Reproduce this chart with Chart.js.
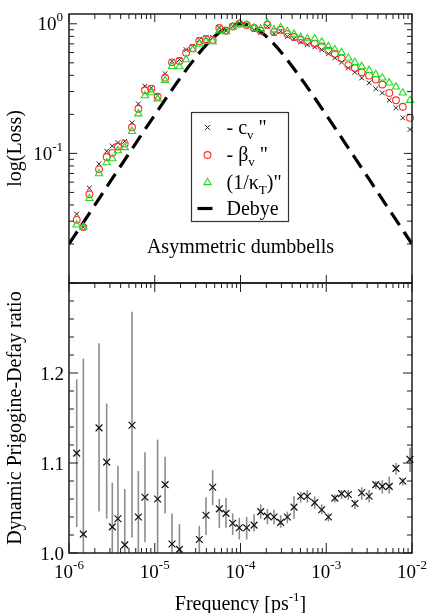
<!DOCTYPE html>
<html>
<head>
<meta charset="utf-8">
<script src="https://cdn.jsdelivr.net/npm/chart.js@4.4.1/dist/chart.umd.min.js"></script>
<style>
  html, body { margin: 0; padding: 0; background: #fff; }
  #wrap { position: relative; width: 428px; height: 613px; overflow: hidden; background: #fff; }
  canvas { position: absolute; left: 0; }
  #lossCanvas { top: 0; }
  #ratioCanvas { top: 270px; }
</style>
</head>
<body>
<div id="wrap">
  <canvas id="lossCanvas" width="428" height="300"></canvas>
  <canvas id="ratioCanvas" width="428" height="343"></canvas>
</div>
<script>
// Frequencies of the measured points [ps^-1]
const frequency = [
  1.23e-6, 1.47e-6, 1.73e-6, 2.24e-6, 2.75e-6, 3.20e-6, 3.72e-6, 4.47e-6, 5.43e-6, 6.44e-6,
  7.69e-6, 9.12e-6, 1.08e-5, 1.32e-5, 1.59e-5, 1.94e-5, 2.32e-5, 2.77e-5, 3.31e-5, 3.96e-5,
  4.74e-5, 5.66e-5, 6.78e-5, 8.11e-5, 9.68e-5, 1.18e-4, 1.44e-4, 1.72e-4, 2.06e-4, 2.46e-4,
  2.94e-4, 3.52e-4, 4.21e-4, 5.04e-4, 6.01e-4, 7.33e-4, 8.85e-4, 1.06e-3, 1.26e-3, 1.51e-3,
  1.81e-3, 2.16e-3, 2.59e-3, 3.16e-3, 3.78e-3, 4.51e-3, 5.43e-3, 6.50e-3, 7.80e-3, 9.48e-3
];

// Normalised loss of -c_v''
const cvLoss = [
  0.034, 0.027, 0.054, 0.083, 0.104, 0.114, 0.121, 0.124, 0.172, 0.241,
  0.330, 0.320, 0.279, 0.412, 0.513, 0.529, 0.631, 0.669, 0.753, 0.785,
  0.785, 0.927, 0.884, 0.953, 1.000, 0.980, 0.899, 0.863, 0.953, 0.838,
  0.873, 0.798, 0.767, 0.723, 0.689, 0.662, 0.631, 0.588, 0.545, 0.505,
  0.456, 0.422, 0.382, 0.350, 0.315, 0.293, 0.257, 0.225, 0.188, 0.153
];

// Normalised loss of -beta_v''
const betaLoss = [
  0.0307, 0.027, 0.0484, 0.0753, 0.0937, 0.101, 0.113, 0.119, 0.159, 0.221,
  0.307, 0.316, 0.274, 0.384, 0.504, 0.516, 0.598, 0.650, 0.736, 0.762,
  0.750, 0.927, 0.884, 0.953, 1.000, 0.980, 0.927, 0.884, 0.982, 0.863,
  0.899, 0.833, 0.790, 0.753, 0.723, 0.702, 0.669, 0.620, 0.585, 0.540,
  0.480, 0.456, 0.422, 0.398, 0.371, 0.340, 0.293, 0.257, 0.229, 0.188
];

// Normalised loss of (1/kappa_T)''
const kappaLoss = [
  0.0281, 0.027, 0.0449, 0.0698, 0.0848, 0.091, 0.105, 0.111, 0.148, 0.202,
  0.279, 0.294, 0.263, 0.366, 0.469, 0.467, 0.529, 0.631, 0.698, 0.731,
  0.730, 0.884, 0.870, 0.945, 1.000, 0.980, 0.930, 0.915, 1.012, 0.899,
  0.937, 0.873, 0.833, 0.785, 0.767, 0.767, 0.723, 0.669, 0.631, 0.600,
  0.545, 0.504, 0.469, 0.437, 0.406, 0.382, 0.350, 0.326, 0.293, 0.257
];

// Debye reference peak
const debyeFrequency = [
  1e-6, 1.78e-6, 3.16e-6, 5.62e-6, 1e-5, 1.78e-5, 3.16e-5, 4.22e-5, 5.62e-5, 7.5e-5,
  1e-4, 1.33e-4, 1.78e-4, 2.37e-4, 3.16e-4, 5.62e-4, 1e-3, 1.78e-3, 3.16e-3, 5.62e-3, 1e-2
];
const debyeLoss = [
  0.0200, 0.0355, 0.0632, 0.112, 0.198, 0.345, 0.575, 0.716, 0.854, 0.960,
  1.000, 0.960, 0.854, 0.716, 0.575, 0.345, 0.198, 0.112, 0.0632, 0.0355, 0.0200
];

// Dynamic Prigogine-Defay ratio with its error range (null: outside the shown range)
const pdRatio = [
  1.111, 1.021, null, 1.139, 1.101, 1.029, 1.038, 1.009, 1.142, 1.040,
  1.062, null, 1.060, 1.076, 1.010, 1.004, null, null, 1.015, 1.042,
  1.073, 1.049, 1.044, 1.033, 1.028, 1.028, 1.031, 1.046, 1.041, 1.040,
  1.034, 1.040, 1.051, 1.063, 1.063, 1.056, 1.048, 1.040, 1.061, 1.066,
  1.065, 1.055, 1.067, 1.063, 1.076, 1.074, 1.074, 1.094, 1.080, 1.104
];
const pdLow = [
  1.029, 0.970, null, 1.046, 1.038, 0.980, 0.980, 0.950, 1.017, 0.990,
  1.012, null, 0.990, 1.044, 0.976, 0.976, null, null, 1.000, 1.020,
  1.053, 1.028, 1.028, 1.020, 1.015, 1.015, 1.024, 1.038, 1.032, 1.032,
  1.028, 1.033, 1.038, 1.056, 1.056, 1.049, 1.043, 1.035, 1.056, 1.060,
  1.059, 1.049, 1.059, 1.056, 1.071, 1.066, 1.066, 1.087, 1.075, 1.090
];
const pdHigh = [
  1.193, 1.216, null, 1.233, 1.166, 1.078, 1.097, 1.071, 1.268, 1.091,
  1.112, null, 1.126, 1.107, 1.044, 1.032, null, null, 1.030, 1.062,
  1.092, 1.060, 1.061, 1.044, 1.039, 1.040, 1.043, 1.054, 1.049, 1.048,
  1.042, 1.046, 1.063, 1.068, 1.070, 1.063, 1.054, 1.044, 1.065, 1.070,
  1.070, 1.059, 1.073, 1.070, 1.080, 1.081, 1.085, 1.100, 1.083, 1.117
];

// Axis ranges and tick labels
const freqRange = [1e-6, 1e-2];
const lossRange = [0.01, 1.19];
const ratioRange = [1.0, 1.3];
const freqTicks = [1e-6, 1e-5, 1e-4, 1e-3, 1e-2];
const freqTickExponents = ['-6', '-5', '-4', '-3', '-2'];
const lossTicks = [0.1, 1];
const lossTickExponents = ['-1', '0'];
const ratioTicks = [1.0, 1.1, 1.2];
const ratioTickLabels = ['1.0', '1.1', '1.2'];

const SERIF = '"Liberation Serif", "Times New Roman", Times, serif';

function toPoints(xs, ys) {
  return xs.map((x, i) => ({ x: x, y: ys[i] })).filter(p => p.y !== null);
}

// decade + 2..9 minor positions inside [min, max]
function logTickValues(min, max) {
  const out = [];
  for (let e = Math.floor(Math.log10(min)); e <= Math.ceil(Math.log10(max)); e++) {
    for (let k = 1; k < 10; k++) {
      const v = k * Math.pow(10, e);
      if (v >= min * 0.999 && v <= max * 1.001) out.push({ v: v, major: k === 1 });
    }
  }
  return out;
}

function seg(ctx, x1, y1, x2, y2) {
  ctx.beginPath();
  ctx.moveTo(x1, y1);
  ctx.lineTo(x2, y2);
  ctx.stroke();
}

// text made of pieces with their own size and vertical shift (sub/superscripts)
function richText(ctx, parts, x, y, align) {
  let w = 0;
  parts.forEach(p => { ctx.font = p.size + 'px ' + SERIF; p.w = ctx.measureText(p.t).width; w += p.w; });
  let cx = align === 'center' ? x - w / 2 : (align === 'right' ? x - w : x);
  ctx.textAlign = 'left';
  ctx.textBaseline = 'alphabetic';
  parts.forEach(p => {
    ctx.font = p.size + 'px ' + SERIF;
    ctx.fillText(p.t, cx, y + (p.dy || 0));
    cx += p.w;
  });
}

function powerParts(exp) {
  return [{ t: '10', size: 19 }, { t: exp, size: 13, dy: -9 }];
}

function marker(ctx, style, x, y, r) {
  ctx.beginPath();
  if (style === 'crossRot') {
    const d = r * Math.SQRT1_2;
    ctx.moveTo(x - d, y - d); ctx.lineTo(x + d, y + d);
    ctx.moveTo(x - d, y + d); ctx.lineTo(x + d, y - d);
  } else if (style === 'circle') {
    ctx.arc(x, y, r, 0, Math.PI * 2);
  } else if (style === 'triangle') {
    for (let i = 0; i < 3; i++) {
      const a = i * 2 * Math.PI / 3;
      const px = x + Math.sin(a) * r, py = y - Math.cos(a) * r;
      if (i === 0) ctx.moveTo(px, py); else ctx.lineTo(px, py);
    }
    ctx.closePath();
  }
  ctx.stroke();
}

function verticalTitle(ctx, text, x, y) {
  ctx.save();
  ctx.translate(x, y);
  ctx.rotate(-Math.PI / 2);
  ctx.font = '20px ' + SERIF;
  ctx.fillStyle = '#000';
  ctx.textAlign = 'center';
  ctx.textBaseline = 'middle';
  ctx.fillText(text, 0, 0);
  ctx.restore();
}

const lossSeries = [
  { label: '- c_v\'\'', data: cvLoss, style: 'crossRot', r: 3.4, color: '#222222', width: 1 },
  { label: '- beta_v\'\'', data: betaLoss, style: 'circle', r: 3.4, color: '#ff2a2a', width: 1.1 },
  { label: '(1/kappa_T)\'\'', data: kappaLoss, style: 'triangle', r: 4.2, color: '#1fdc1f', width: 1.1 }
];

const lossDecor = {
  id: 'lossDecor',
  afterDraw(chart) {
    const ctx = chart.ctx, a = chart.chartArea, X = chart.scales.x, Y = chart.scales.y;
    ctx.save();
    ctx.strokeStyle = '#1c1c1c';
    ctx.lineWidth = 1;
    logTickValues(freqRange[0], freqRange[1]).forEach(t => {
      const px = X.getPixelForValue(t.v);
      seg(ctx, px, a.top, px, a.top + (t.major ? 8 : 5));
      if (t.major) seg(ctx, px, a.bottom, px, a.bottom - 8);
    });
    logTickValues(lossRange[0], lossRange[1]).forEach(t => {
      const py = Y.getPixelForValue(t.v);
      const len = t.major ? 8 : 5;
      seg(ctx, a.left, py, a.left + len, py);
      seg(ctx, a.right, py, a.right - len, py);
    });
    ctx.lineWidth = 1.5;
    ctx.strokeRect(a.left, a.top, a.right - a.left, a.bottom - a.top);

    ctx.fillStyle = '#000';
    lossTicks.forEach((v, i) => {
      richText(ctx, powerParts(lossTickExponents[i]), a.left - 6, Y.getPixelForValue(v) + 6.5, 'right');
    });
    verticalTitle(ctx, 'log(Loss)', 16, (a.top + a.bottom) / 2);

    ctx.font = '20px ' + SERIF;
    ctx.textAlign = 'center';
    ctx.fillText('Asymmetric dumbbells', (a.left + a.right) / 2, a.bottom - 30);

    // legend
    const bx = a.left + 122.5, by = a.top + 98.5, bw = 97, bh = 109;
    ctx.fillStyle = '#fff';
    ctx.fillRect(bx, by, bw, bh);
    ctx.strokeStyle = '#333';
    ctx.lineWidth = 1.2;
    ctx.strokeRect(bx, by, bw, bh);
    const mx = bx + 16, tx = bx + 35;
    const rows = [by + 15, by + 42.5, by + 70, by + 96];
    lossSeries.forEach((s, i) => {
      ctx.strokeStyle = s.color;
      ctx.lineWidth = s.width;
      marker(ctx, s.style, mx, rows[i], s.r);
    });
    ctx.strokeStyle = '#000';
    ctx.lineWidth = 3.2;
    seg(ctx, bx + 6, rows[3], bx + 21, rows[3]);
    ctx.fillStyle = '#000';
    richText(ctx, [{ t: '- c', size: 20 }, { t: 'v', size: 13, dy: 5 }, { t: ' "', size: 20 }], tx, rows[0] + 6, 'left');
    richText(ctx, [{ t: '- \u03b2', size: 20 }, { t: 'v', size: 13, dy: 5 }, { t: ' "', size: 20 }], tx, rows[1] + 6, 'left');
    richText(ctx, [{ t: '(1/\u03ba', size: 20 }, { t: 'T', size: 13, dy: 5 }, { t: ')"', size: 20 }], tx, rows[2] + 6, 'left');
    richText(ctx, [{ t: 'Debye', size: 20 }], tx, rows[3] + 6, 'left');
    ctx.restore();
  }
};

const ratioDecor = {
  id: 'ratioDecor',
  beforeDatasetsDraw(chart) {
    const ctx = chart.ctx, a = chart.chartArea, X = chart.scales.x, Y = chart.scales.y;
    ctx.save();
    ctx.beginPath();
    ctx.rect(a.left, a.top, a.right - a.left, a.bottom - a.top);
    ctx.clip();
    ctx.strokeStyle = '#8c8c8c';
    ctx.lineWidth = 1.6;
    frequency.forEach((f, i) => {
      if (pdRatio[i] === null) return;
      const px = X.getPixelForValue(f);
      seg(ctx, px, Y.getPixelForValue(pdLow[i]), px, Y.getPixelForValue(pdHigh[i]));
    });
    ctx.restore();
  },
  afterDraw(chart) {
    const ctx = chart.ctx, a = chart.chartArea, X = chart.scales.x, Y = chart.scales.y;
    ctx.save();
    ctx.strokeStyle = '#1c1c1c';
    ctx.lineWidth = 1;
    logTickValues(freqRange[0], freqRange[1]).forEach(t => {
      const px = X.getPixelForValue(t.v);
      seg(ctx, px, a.bottom, px, a.bottom - (t.major ? 10 : 5));
      seg(ctx, px, a.top, px, a.top + (t.major ? 9 : 5));
    });
    for (let k = 0; k <= 15; k++) {
      const v = ratioRange[0] + k * 0.02;
      const py = Y.getPixelForValue(v);
      const len = k % 5 === 0 ? 9 : 5;
      seg(ctx, a.left, py, a.left + len, py);
      seg(ctx, a.right, py, a.right - len, py);
    }
    ctx.lineWidth = 1.5;
    ctx.strokeRect(a.left, a.top, a.right - a.left, a.bottom - a.top);

    ctx.fillStyle = '#000';
    ratioTicks.forEach((v, i) => {
      richText(ctx, [{ t: ratioTickLabels[i], size: 19 }], a.left - 5, Y.getPixelForValue(v) + 6.5, 'right');
    });
    freqTicks.forEach((v, i) => {
      richText(ctx, powerParts(freqTickExponents[i]), X.getPixelForValue(v), a.bottom + 25, 'center');
    });
    richText(ctx, [{ t: 'Frequency [ps', size: 20 }, { t: '-1', size: 13, dy: -9 }, { t: ']', size: 20 }],
      (a.left + a.right) / 2, a.bottom + 57, 'center');
    verticalTitle(ctx, 'Dynamic Prigogine-Defay ratio', 16, (a.top + a.bottom) / 2);
    ctx.restore();
  }
};

const baseOptions = (padding, yScale) => ({
  responsive: false,
  maintainAspectRatio: false,
  animation: false,
  devicePixelRatio: 1,
  layout: { padding: padding },
  plugins: { legend: { display: false }, tooltip: { enabled: false } },
  scales: {
    x: { type: 'logarithmic', min: freqRange[0], max: freqRange[1], bounds: 'data', display: false },
    y: yScale
  }
});

new Chart(document.getElementById('lossCanvas'), {
  type: 'scatter',
  data: {
    datasets: [
      {
        type: 'line',
        label: 'Debye',
        data: toPoints(debyeFrequency, debyeLoss),
        borderColor: '#000',
        borderWidth: 3.2,
        borderDash: [15, 8],
        pointRadius: 0,
        fill: false,
        cubicInterpolationMode: 'monotone',
        order: 4
      }
    ].concat(lossSeries.map((s, i) => ({
      label: s.label,
      data: toPoints(frequency, s.data),
      pointStyle: s.style,
      pointRadius: s.r,
      pointBorderWidth: s.width,
      borderColor: s.color,
      backgroundColor: 'rgba(0,0,0,0)',
      showLine: false,
      clip: false,
      order: 3 - i
    })))
  },
  options: baseOptions({ left: 69, right: 16, top: 14, bottom: 17 },
    { type: 'logarithmic', min: lossRange[0], max: lossRange[1], bounds: 'data', display: false }),
  plugins: [lossDecor]
});

new Chart(document.getElementById('ratioCanvas'), {
  type: 'scatter',
  data: {
    datasets: [{
      label: 'Prigogine-Defay ratio',
      data: toPoints(frequency, pdRatio),
      pointStyle: 'crossRot',
      pointRadius: 4.8,
      pointBorderWidth: 1.2,
      borderColor: '#111',
      backgroundColor: 'rgba(0,0,0,0)',
      showLine: false,
      clip: false
    }]
  },
  options: baseOptions({ left: 69, right: 16, top: 13, bottom: 60 },
    { type: 'linear', min: ratioRange[0], max: ratioRange[1], bounds: 'data', display: false }),
  plugins: [ratioDecor]
});
</script>
</body>
</html>
